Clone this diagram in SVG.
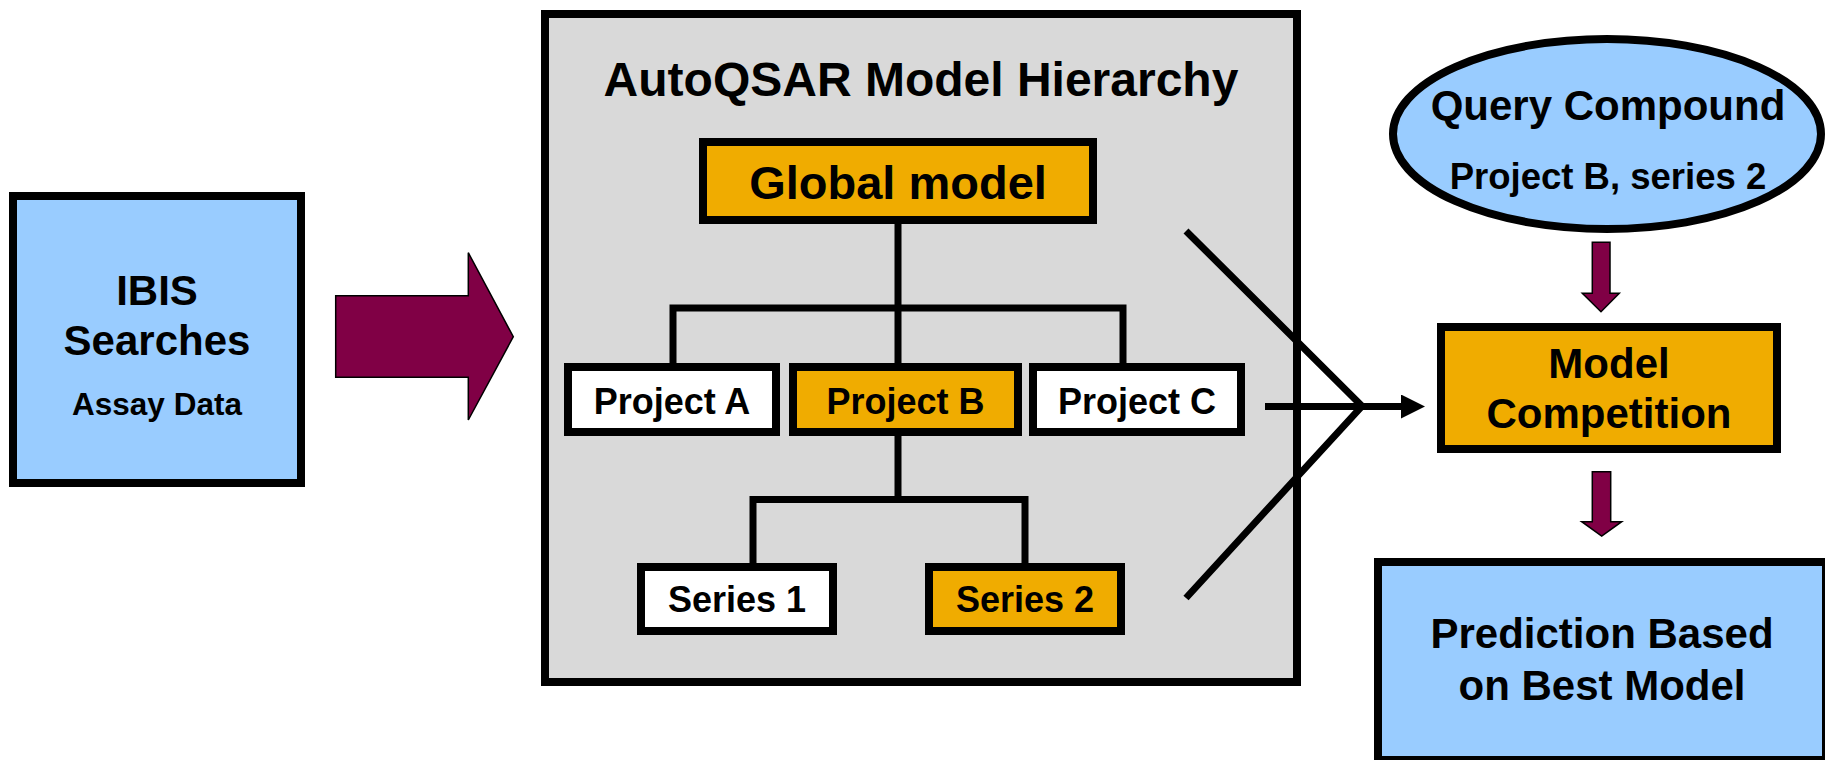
<svg xmlns="http://www.w3.org/2000/svg" width="1825" height="760" viewBox="0 0 1825 760">
  <style>
    text { font-family: "Liberation Sans", Arial, sans-serif; font-weight: bold; fill: #000; text-anchor: middle; }
    .box { stroke: #000; stroke-width: 8; }
    .blue { fill: #99CCFF; }
    .orange { fill: #F0AC00; }
    .white { fill: #FFFFFF; }
    .gray { fill: #D9D9D9; }
    .line { fill: none; stroke: #000; stroke-width: 7; stroke-linejoin: miter; stroke-linecap: butt; }
    .fat { fill: #800045; stroke: #000; stroke-width: 1.5; stroke-linejoin: miter; }
  </style>
  <defs>
    <marker id="head" viewBox="0 0 24 24" refX="0" refY="12" markerWidth="24" markerHeight="24" markerUnits="userSpaceOnUse" orient="auto">
      <path d="M0,0 L24,12 L0,24 Z" fill="#000"/>
    </marker>
  </defs>

  <rect width="1825" height="760" fill="#FFFFFF"/>

  <g id="ibis">
    <rect class="box blue" x="13" y="196" width="288" height="287"/>
    <text x="157" y="305" font-size="42">IBIS</text>
    <text x="157" y="355" font-size="42">Searches</text>
    <text x="157" y="415" font-size="31.5">Assay Data</text>
  </g>

  <g id="hierarchy">
    <rect class="box gray" x="545" y="14" width="752" height="668"/>
    <text x="921" y="96" font-size="48">AutoQSAR Model Hierarchy</text>
  </g>

  <g id="connectors">
    <polygon class="fat" points="335.7,295.7 468.3,295.7 468.3,252.7 513.3,336.7 468.3,420 468.3,377.3 335.7,377.3"/>
    <line class="line" x1="898" y1="224" x2="898" y2="363"/>
    <polyline class="line" points="673,363 673,308 1123,308 1123,363"/>
    <line class="line" x1="898" y1="436" x2="898" y2="499.5"/>
    <polyline class="line" points="753,567 753,499.5 1025,499.5 1025,567"/>
    <polyline class="line" points="1186,231 1362,406 1186,598"/>
    <line class="line" x1="1265" y1="406.5" x2="1401" y2="406.5" marker-end="url(#head)"/>
    <polygon class="fat" points="1592.3,242.3 1610,242.3 1610,293.3 1619.3,293.3 1601,311.7 1582.3,293.3 1592.3,293.3"/>
    <polygon class="fat" points="1592.3,471.7 1610.7,471.7 1610.7,521.7 1621.7,521.7 1601.7,536 1581.7,521.7 1592.3,521.7"/>
  </g>

  <g id="global-model">
    <rect class="box orange" x="703" y="142" width="390" height="78"/>
    <text x="898" y="199" font-size="47">Global model</text>
  </g>

  <g id="project-a">
    <rect class="box white" x="568" y="367" width="208" height="65"/>
    <text x="672" y="414" font-size="36">Project A</text>
  </g>

  <g id="project-b">
    <rect class="box orange" x="793" y="367" width="225" height="65"/>
    <text x="905.5" y="414" font-size="36">Project B</text>
  </g>

  <g id="project-c">
    <rect class="box white" x="1033" y="367" width="208" height="65"/>
    <text x="1137" y="414" font-size="36">Project C</text>
  </g>

  <g id="series-1">
    <rect class="box white" x="641" y="567" width="192" height="64"/>
    <text x="737" y="612" font-size="36">Series 1</text>
  </g>

  <g id="series-2">
    <rect class="box orange" x="929" y="567" width="192" height="64"/>
    <text x="1025" y="612" font-size="36">Series 2</text>
  </g>

  <g id="query-compound">
    <ellipse class="box blue" cx="1607" cy="134" rx="214" ry="95"/>
    <text x="1608" y="120" font-size="42">Query Compound</text>
    <text x="1608" y="189" font-size="36.5">Project B, series 2</text>
  </g>

  <g id="model-competition">
    <rect class="box orange" x="1441" y="327" width="336" height="122"/>
    <text x="1609" y="378" font-size="42">Model</text>
    <text x="1609" y="428" font-size="42">Competition</text>
  </g>

  <g id="prediction">
    <rect class="box blue" x="1378" y="562" width="448" height="198"/>
    <text x="1602" y="648" font-size="42">Prediction Based</text>
    <text x="1602" y="700" font-size="42">on Best Model</text>
  </g>
</svg>
